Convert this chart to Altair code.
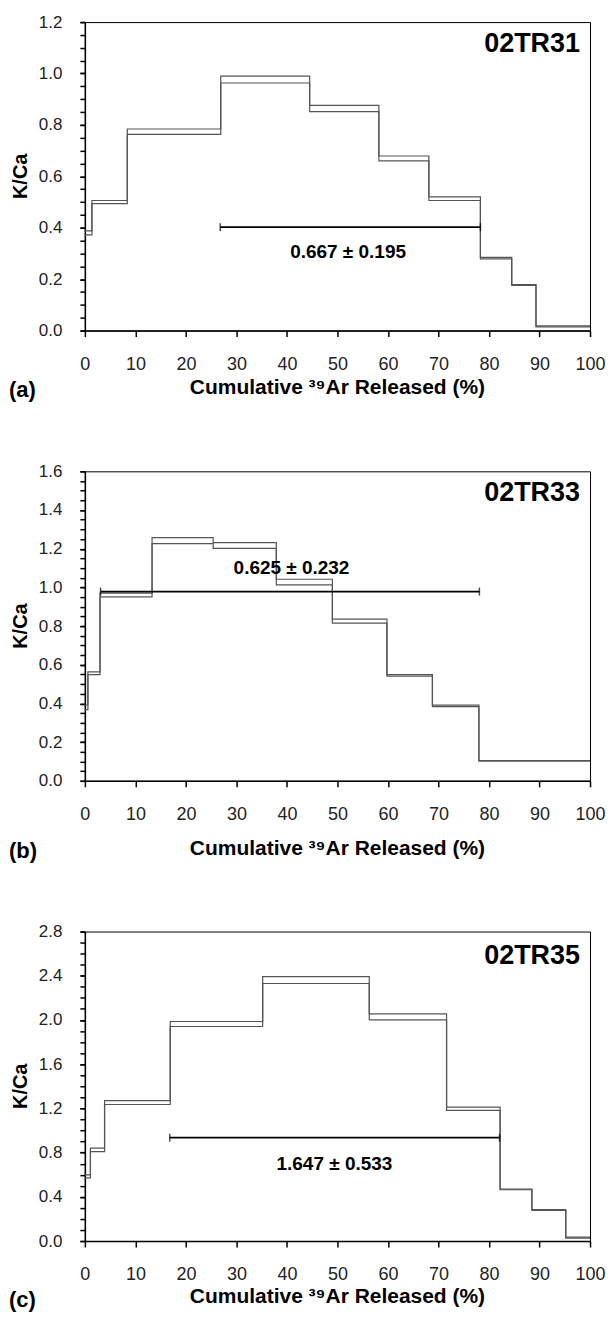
import altair as alt
import pandas as pd

# ---------------- data ----------------
# (a) 02TR31
a_bounds = [0, 1.4, 8.4, 26.9, 44.5, 58.2, 68.1, 78.3, 84.5, 89.3, 100]
a_upper = [0.388, 0.506, 0.784, 0.990, 0.876, 0.679, 0.520, 0.285, 0.179, 0.018]
a_lower = [0.372, 0.494, 0.763, 0.963, 0.852, 0.660, 0.506, 0.279, 0.176, 0.014]
a_plateau = [26.8, 78.3, 0.402]
a_label = "0.667 ± 0.195"

# (b) 02TR33
b_bounds = [0, 0.6, 3.0, 13.3, 25.4, 37.9, 49.0, 59.8, 68.8, 78.0, 100]
b_upper = [0.392, 0.563, 0.970, 1.257, 1.231, 1.042, 0.836, 0.549, 0.391, 0.105]
b_lower = [0.368, 0.549, 0.951, 1.226, 1.202, 1.013, 0.815, 0.541, 0.383, 0.101]
b_plateau = [3.1, 78.1, 0.978]
b_label = "0.625 ± 0.232"

# (c) 02TR35
c_bounds = [0, 1.1, 3.9, 16.9, 35.2, 56.3, 71.6, 82.2, 88.5, 95.2, 100]
c_upper = [0.598, 0.841, 1.271, 1.986, 2.393, 2.055, 1.211, 0.470, 0.284, 0.036]
c_lower = [0.571, 0.808, 1.235, 1.941, 2.330, 2.001, 1.182, 0.464, 0.278, 0.027]
c_plateau = [16.8, 82.1, 0.935]
c_label = "1.647 ± 0.533"

x_ticks = [0, 10, 20, 30, 40, 50, 60, 70, 80, 90, 100]

W = 506
LINE_COLOR = "#555555"
TICK_FONT = "Liberation Sans"
BOLD_FONT = "Liberation Sans"


def panel(bounds, upper, lower, plateau, label, label_xy, name, name_y,
          letter, ymax, ymajor, yminor, height, title_off, letter_off):
    rows = []
    for i in range(len(upper)):
        rows.append({"x": bounds[i], "bound": "upper", "v": upper[i]})
        rows.append({"x": bounds[i], "bound": "lower", "v": lower[i]})
    rows.append({"x": bounds[-1], "bound": "upper", "v": upper[-1]})
    rows.append({"x": bounds[-1], "bound": "lower", "v": lower[-1]})
    df = pd.DataFrame(rows)

    n_minor = int(round(ymax / yminor))
    minor_vals = [round(i * yminor, 4) for i in range(n_minor + 1)]
    n_major = int(round(ymax / ymajor))
    major_vals = [round(i * ymajor, 4) for i in range(n_major + 1)]

    xs = alt.Scale(domain=[0, 100], nice=False, zero=False)
    ys = alt.Scale(domain=[0, ymax], nice=False)

    xaxis = alt.Axis(values=x_ticks, title=None, tickSize=6, tickWidth=1.5,
                     tickColor="black", domainColor="black", domainWidth=1.5,
                     labelFont=TICK_FONT, labelFontSize=18, labelColor="#222222",
                     labelPadding=19, labelFlush=False, labelOverlap=False, grid=False)
    yaxis_major = alt.Axis(values=major_vals, title=None, orient="left", tickSize=5,
                           tickWidth=1.5, tickColor="black", domainColor="black",
                           domainWidth=1.5, labelFont=TICK_FONT, labelFontSize=17,
                           labelColor="#222222", labelPadding=18, labelFlush=False,
                           labelOverlap=False, format=".1f", grid=False)
    yaxis_minor = alt.Axis(values=minor_vals, title=None, orient="left", tickSize=5,
                           tickWidth=1.5, tickColor="black", domain=False,
                           labels=False, grid=False)

    lines = alt.Chart(df).mark_line(interpolate="step-after", strokeWidth=1.2,
                                    color=LINE_COLOR).encode(
        x=alt.X("x:Q", scale=xs, axis=xaxis),
        y=alt.Y("v:Q", scale=ys, axis=yaxis_major),
        detail="bound:N",
    )

    pdf = pd.DataFrame({"x1": [plateau[0]], "x2": [plateau[1]], "y": [plateau[2]]})
    rule = alt.Chart(pdf).mark_rule(color="black", strokeWidth=1.8).encode(
        x="x1:Q", x2="x2:Q", y=alt.Y("y:Q", axis=yaxis_minor))
    caps = alt.Chart(pd.DataFrame({"x": plateau[:2], "y": [plateau[2]] * 2})).mark_tick(
        orient="vertical", size=8, thickness=1.5, color="black").encode(
        x="x:Q", y=alt.Y("y:Q", axis=None))

    tdf = pd.DataFrame({"x": [label_xy[0]], "y": [label_xy[1]], "t": [label]})
    ptext = alt.Chart(tdf).mark_text(font=BOLD_FONT, fontSize=19, fontWeight="bold",
                                     color="black", align="center",
                                     baseline="middle").encode(
        x="x:Q", y=alt.Y("y:Q", axis=None), text="t:N")

    ndf = pd.DataFrame({"t": [name]})
    ntext = alt.Chart(ndf).mark_text(font=BOLD_FONT, fontSize=27, fontWeight="bold",
                                     color="black", align="right", baseline="middle").encode(
        x=alt.value(W - 10), y=alt.value(name_y), text="t:N")

    ytitle = alt.Chart(pd.DataFrame({"t": ["K/Ca"]})).mark_text(
        font=BOLD_FONT, fontSize=20, fontWeight="bold", color="black", angle=270,
        align="center", baseline="middle").encode(
        x=alt.value(-64), y=alt.value(height / 2), text="t:N")

    xtitle = alt.Chart(pd.DataFrame({"t": ["Cumulative \u00b3\u2079Ar Released (%)"]})).mark_text(
        font=BOLD_FONT, fontSize=21, fontWeight="bold", color="black",
        align="center", baseline="middle").encode(
        x=alt.value(W / 2), y=alt.value(height + title_off), text="t:N")

    ltext = alt.Chart(pd.DataFrame({"t": [letter]})).mark_text(
        font=BOLD_FONT, fontSize=22, fontWeight="bold", color="black",
        align="left", baseline="middle").encode(
        x=alt.value(-76), y=alt.value(height + letter_off), text="t:N")

    return alt.layer(lines, rule, caps, ptext, ntext, ytitle, xtitle, ltext).resolve_axis(
        y="independent").properties(width=W, height=height)


pa = panel(a_bounds, a_upper, a_lower, a_plateau, a_label, (52.1, 0.305), "02TR31", 22,
           "(a)", 1.2, 0.2, 0.05, 309, 58, 60)
pb = panel(b_bounds, b_upper, b_lower, b_plateau, b_label, (40.9, 1.102), "02TR33", 22,
           "(b)", 1.6, 0.2, 0.05, 310, 68, 70)
pc = panel(c_bounds, c_upper, c_lower, c_plateau, c_label, (49.4, 0.70), "02TR35", 25,
           "(c)", 2.8, 0.4, 0.1, 310, 56, 59)

chart = alt.vconcat(pa, pb, pc, spacing=59).properties(
    padding={"left": 0, "top": 3, "right": 0, "bottom": 0},
    background="white",
).configure_view(stroke="black", strokeWidth=1)

chart.save("out.html", embed_options={"renderer": "svg", "actions": False})
